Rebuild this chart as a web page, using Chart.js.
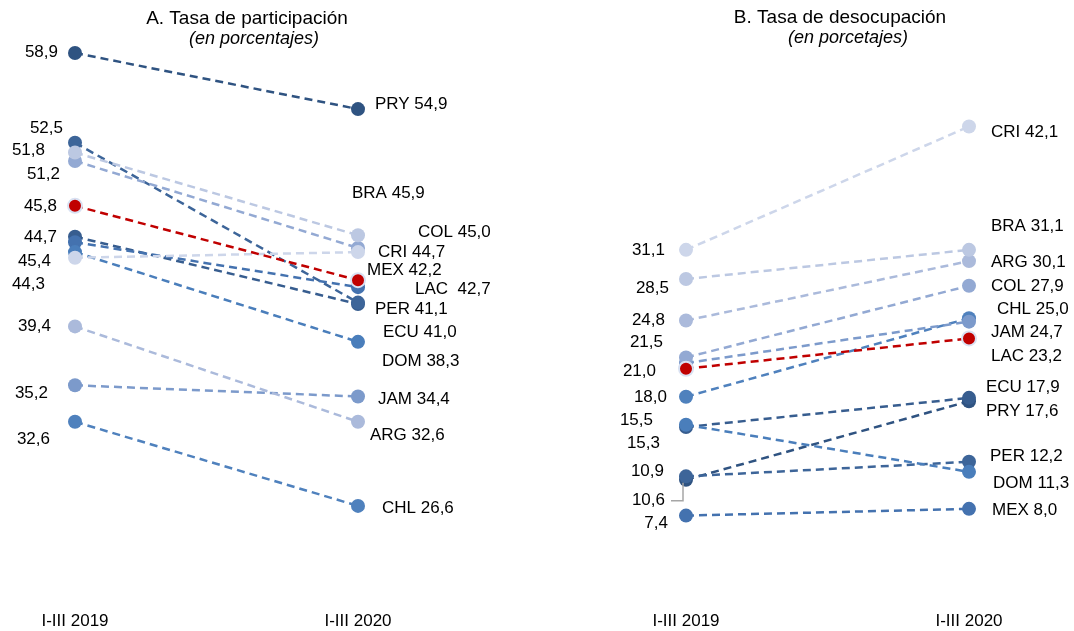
<!DOCTYPE html>
<html>
<head>
<meta charset="utf-8">
<script src="https://cdn.jsdelivr.net/npm/chart.js@4.4.1/dist/chart.umd.min.js"></script>
<style>
html, body { margin: 0; padding: 0; background: #fff; overflow: hidden; }
#wrap { position: relative; width: 1074px; height: 631px; overflow: hidden; }
canvas { position: absolute; top: 0; }
</style>
</head>
<body>
<div id="wrap">
  <canvas id="chartA" width="537" height="654" style="left:0px"></canvas>
  <canvas id="chartB" width="537" height="654" style="left:537px"></canvas>
</div>
<script>
// datos
var periodos = ['I-III 2019', 'I-III 2020'];
var paises = ['LAC', 'CRI', 'BRA', 'ARG', 'COL', 'JAM', 'CHL', 'DOM', 'MEX', 'PER', 'ECU', 'PRY'];

var participacion2019 = [48.0, 44.3, 51.8, 39.4, 51.2, 35.2, 32.6, 44.7, 45.4, 52.5, 45.8, 58.9];
var participacion2020 = [42.7, 44.7, 45.9, 32.6, 45.0, 34.4, 26.6, 38.3, 42.2, 41.1, 41.0, 54.9];

var desocupacion2019 = [20.5, 31.1, 28.5, 24.8, 21.5, 21.0, 18.0, 15.5, 7.4, 10.9, 15.3, 10.6];
var desocupacion2020 = [23.2, 42.1, 31.1, 30.1, 27.9, 24.7, 25.0, 11.3, 8.0, 12.2, 17.9, 17.6];

var colores = {
  LAC: '#C00000', CRI: '#CDD6EA', BRA: '#BCC8E2', ARG: '#ABBADB', COL: '#93A9D3', JAM: '#7C9ACB',
  CHL: '#4F81BD', DOM: '#4A7EBB', MEX: '#4472AF', PER: '#3D6599', ECU: '#375D8F', PRY: '#2F5381'
};

// desplazamiento de etiquetas [dx, dy] respecto del punto
var etiqA = {
  left: { PRY: [-17, -1], PER: [-12, -14], BRA: [-30, -2], COL: [-15, 13], ECU: [-18, -30], DOM: [-18, -15],
          MEX: [-24, 19], CRI: [-30, 27], ARG: [-24, 0], JAM: [-27, 8], CHL: [-25, 18] },
  right: { PRY: [17, -5], PER: [17, 7], BRA: [-6, -42], COL: [60, -16], LAC: [57, 9], ECU: [25, 28],
           MEX: [9, -17], DOM: [24, 19], CRI: [20, 0], ARG: [12, 14], JAM: [20, 3], CHL: [24, 2] },
  sep: { LAC: '  ' }
};
var etiqB = {
  left: { CRI: [-21, 0], BRA: [-17, 9], ARG: [-21, 0], COL: [-23, -15], JAM: [-30, 8], CHL: [-19, 1],
          DOM: [-33, -4], ECU: [-26, 16], PER: [-22, -5], PRY: [-21, 21], MEX: [-18, 8] },
  right: { CRI: [22, 6], BRA: [22, -24], ARG: [22, 1], COL: [22, 1], CHL: [28, -9], JAM: [22, 11],
           LAC: [22, 18], ECU: [17, -11], PRY: [17, 10], PER: [21, -5], DOM: [24, 11], MEX: [23, 1] },
  sep: {},
  leader: 'PRY'
};

var fuente = '"Liberation Sans", Arial, sans-serif';

function fmt(v) {
  return v.toFixed(1).replace('.', ',');
}

function buildDatasets(v2019, v2020) {
  var ds = [];
  for (var i = 0; i < paises.length; i++) {
    var p = paises[i];
    ds.push({
      label: p,
      data: [v2019[i], v2020[i]],
      borderColor: colores[p],
      backgroundColor: colores[p],
      pointBackgroundColor: colores[p],
      pointBorderColor: p === 'LAC' ? '#D9E1F2' : colores[p],
      pointBorderWidth: p === 'LAC' ? 2 : 0,
      pointRadius: 7,
      borderWidth: 2.5,
      borderDash: [8, 5],
      tension: 0
    });
  }
  return ds;
}

function makeLabelPlugin(etiq, titulo, subtitulo, tx, sx) {
  return {
    id: 'etiquetas',
    afterDatasetsDraw: function (chart) {
      var ctx = chart.ctx;
      ctx.save();
      ctx.fillStyle = '#000';
      ctx.textBaseline = 'middle';
      ctx.font = '17px ' + fuente;
      chart.data.datasets.forEach(function (d, i) {
        var meta = chart.getDatasetMeta(i);
        var p0 = meta.data[0], p1 = meta.data[1];
        var l = etiq.left[d.label];
        if (l) {
          ctx.textAlign = 'right';
          ctx.fillText(fmt(d.data[0]), p0.x + l[0], p0.y + l[1]);
          if (etiq.leader === d.label) {
            // linea guia gris hacia el punto
            ctx.strokeStyle = '#A6A6A6';
            ctx.lineWidth = 1.5;
            ctx.beginPath();
            ctx.moveTo(p0.x - 15, p0.y + l[1]);
            ctx.lineTo(p0.x - 3, p0.y + l[1]);
            ctx.lineTo(p0.x - 3, p0.y + 3);
            ctx.stroke();
          }
        }
        var r = etiq.right[d.label];
        if (r) {
          ctx.textAlign = 'left';
          var sep = etiq.sep[d.label] || ' ';
          ctx.fillText(d.label + sep + fmt(d.data[1]), p1.x + r[0], p1.y + r[1]);
        }
      });
      ctx.textAlign = 'center';
      ctx.font = '19px ' + fuente;
      ctx.fillText(titulo, tx[0], tx[1]);
      ctx.font = 'italic 18px ' + fuente;
      ctx.fillText(subtitulo, sx[0], sx[1]);
      ctx.restore();
    }
  };
}

function makeConfig(v2019, v2020, yMin, yMax, padL, padR, plugin) {
  return {
    type: 'line',
    data: { labels: periodos, datasets: buildDatasets(v2019, v2020) },
    plugins: [plugin],
    options: {
      responsive: false,
      animation: false,
      layout: { padding: { left: padL, right: padR, top: 30, bottom: 0 } },
      plugins: { legend: { display: false }, tooltip: { enabled: false } },
      scales: {
        x: {
          offset: false,
          grid: { display: false, drawTicks: false },
          border: { display: false },
          ticks: { color: '#000', padding: 22, font: { size: 17, family: fuente } }
        },
        y: { display: false, min: yMin, max: yMax }
      }
    }
  };
}

Chart.defaults.font.family = fuente;

new Chart(document.getElementById('chartA').getContext('2d'),
  makeConfig(participacion2019, participacion2020, 20.63, 60.54, 75, 179,
    makeLabelPlugin(etiqA, 'A. Tasa de participación', '(en porcentajes)', [247, 19], [254, 39])));

new Chart(document.getElementById('chartB').getContext('2d'),
  makeConfig(desocupacion2019, desocupacion2020, 0.8, 50.71, 149, 105,
    makeLabelPlugin(etiqB, 'B. Tasa de desocupación', '(en porcetajes)', [303, 18], [311, 38])));
</script>
</body>
</html>
